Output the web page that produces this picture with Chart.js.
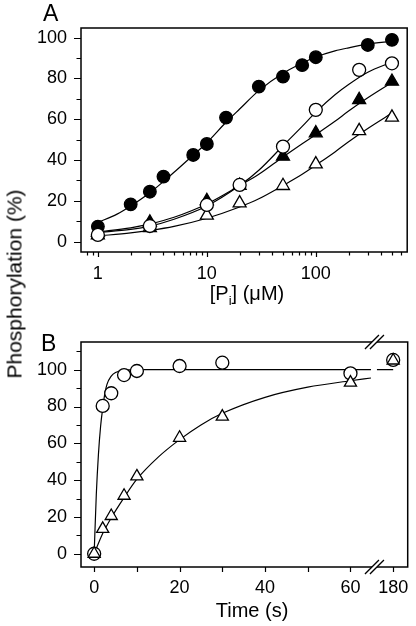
<!DOCTYPE html>
<html><head><meta charset="utf-8">
<script src="https://cdn.jsdelivr.net/npm/chart.js@4"></script>
<style>
html,body{margin:0;padding:0;background:#fff;}
#wrap{position:relative;width:416px;height:626px;overflow:hidden;font-family:"Liberation Sans",Arial,sans-serif;color:#000;}
#ca{position:absolute;left:0;top:0;}
#cb{position:absolute;left:0;top:310px;}
.lab{position:absolute;font-size:23px;line-height:1;}
#ytitle{position:absolute;left:14px;top:284px;transform:translate(-50%,-50%) rotate(-90deg);font-size:21px;line-height:1;white-space:nowrap;}
</style></head><body>
<div id="wrap">
<canvas id="ca" width="416" height="310"></canvas>
<canvas id="cb" width="416" height="316"></canvas>
<div class="lab" style="left:43px;top:2px">A</div>
<div class="lab" style="left:41px;top:332px">B</div>
<div id="ytitle">Phosphorylation (%)</div>
</div>
<script>
// ---------- Panel A data: phosphorylation vs [Pi] (µM) ----------
const a_fc_x=[1,2,3,4,7.5,10,15,30,50,75,100,300,500];
const a_fc_y=[7.4,18.3,24.5,31.9,42.5,47.9,60.8,76,80.9,86.5,90.4,96.4,98.9];
const a_oc_x=[1,3,10,20,50,100,250,500];
const a_oc_y=[3.3,7.7,18,27.8,46.6,64.6,84.2,87.4];
const a_ft_x=[1,3,10,20,50,100,250,500];
const a_ft_y=[4.5,9.5,20,27.5,41.8,53.2,69.5,78.5];
const a_ot_x=[1,3,10,20,50,100,250,500];
const a_ot_y=[3.2,6.8,12.9,18.9,27.4,38,54.3,60.9];
// fitted curves
const a_fit_fc_x=[1,1.5,2,3,4,5,7,10,15,20,30,50,75,100,150,200,300,500];
const a_fit_fc_y=[9.5,13.5,17.5,24,29.5,34,41,48.5,58.5,65,74,82.5,87.5,90.5,93.5,95,96.8,98.2];
const a_fit_oc_x=[1,2,3,5,10,20,30,50,75,100,150,200,300,500];
const a_fit_oc_y=[4.5,6,7.6,11,17.5,27.5,35,47,56.5,63.5,72,77,83,88];
const a_fit_ft_x=[1,2,3,5,10,20,30,50,75,100,150,200,300,500];
const a_fit_ft_y=[4.8,6.8,8.7,12,18.5,27.5,33,41.5,48,52.5,59,64,70.5,78];
const a_fit_ot_x=[1,2,3,5,10,20,30,50,75,100,150,200,300,500];
const a_fit_ot_y=[2.8,4.3,5.5,7.5,11.5,17,21,27.5,33,37.5,44,49,55.5,63];
const a_x_ticks=[1,10,100];
const a_x_minor=[0.8,0.9,2,3,4,5,6,7,8,9,20,30,40,50,60,70,80,90,200,300,400,500,600];
const a_y_ticks=[0,20,40,60,80,100];
const a_y_minor=[10,30,50,70,90];

// ---------- Panel B data: phosphorylation vs time (s) ----------
const b_oc_t=[0,2,4,7,10,20,30,60,180];
const b_oc_y=[0,80.3,87.2,97.1,99.3,102,103.8,98,105.3];
const b_ot_t=[0,2,4,7,10,20,30,60,180];
const b_ot_y=[0,13.5,20.5,31.5,42,63,74.5,93,105];
const b_fit_oc_t=[0,0.5,1,1.5,2,2.5,3,4,5,7,10,64.8];
const b_fit_oc_y=[0,32,54,69,79,87,92,96.5,98.5,99.7,100,100];
const b_fit_oc2_t=[66.2,70];
const b_fit_oc2_y=[100,100];
const b_fit_ot_t=[0,2,4,7,10,15,20,25,30,40,50,60,64.8];
const b_fit_ot_y=[0,11,19.5,30.5,40.5,52.5,62,70,76.3,85,90.5,94,95.5];
const b_x_ticks=[0,20,40,60,180];
const b_x_marks=[0,10,20,30,40,50,60,180];
const b_y_ticks=[0,20,40,60,80,100];
const b_y_minor=[10,30,50,70,90,110];

// broken time axis: the 180 s point sits just after the break
const tpos=t=>t===180?70:t;
const tlabel=v=>v===70?'180':String(v);

const FONT='"Liberation Sans", Arial, sans-serif';
const pts=(xs,ys,f)=>xs.map((x,i)=>({x:f?f(x):x,y:ys[i]}));

function marker(data,style,filled,r){
  return {data,showLine:false,order:0,pointStyle:style,pointRadius:r,pointHoverRadius:r,
    pointBackgroundColor:filled?'#000':'#fff',pointBorderColor:'#000',pointBorderWidth:1.3};
}
function curve(data){
  return {data,showLine:true,order:1,pointRadius:0,borderColor:'#000',borderWidth:1.2,
    cubicInterpolationMode:'monotone',fill:false};
}

const framePlugin={
  id:'framePlugin',
  afterDraw(chart,args,o){
    const {ctx,chartArea:a,scales:{x,y}}=chart;
    ctx.save();
    ctx.strokeStyle='#000';
    ctx.lineWidth=1.2;
    ctx.beginPath();
    o.yMajor.forEach(v=>{const p=Math.round(y.getPixelForValue(v))+0.5;ctx.moveTo(a.left-7,p);ctx.lineTo(a.left,p);});
    o.yMinor.forEach(v=>{const p=Math.round(y.getPixelForValue(v))+0.5;ctx.moveTo(a.left-4.5,p);ctx.lineTo(a.left,p);});
    o.xMajor.forEach(v=>{const p=Math.round(x.getPixelForValue(v))+0.5;ctx.moveTo(p,a.bottom);ctx.lineTo(p,a.bottom+5);});
    o.xMinor.forEach(v=>{const p=Math.round(x.getPixelForValue(v))+0.5;ctx.moveTo(p,a.bottom);ctx.lineTo(p,a.bottom+3.5);});
    ctx.stroke();
    ctx.lineWidth=1.5;
    ctx.strokeRect(a.left,a.top,a.right-a.left,a.bottom-a.top);
    if(o.breakAt!==undefined){
      const cx=x.getPixelForValue(o.breakAt);
      [a.top,a.bottom].forEach(yy=>{
        ctx.fillStyle='#fff';
        ctx.beginPath();
        ctx.moveTo(cx-9,yy+7);ctx.lineTo(cx+5,yy-7);ctx.lineTo(cx+10,yy-7);ctx.lineTo(cx-4,yy+7);ctx.closePath();
        ctx.fill();
        ctx.lineWidth=1.3;
        ctx.beginPath();
        ctx.moveTo(cx-9,yy+7);ctx.lineTo(cx+5,yy-7);
        ctx.moveTo(cx-4,yy+7);ctx.lineTo(cx+10,yy-7);
        ctx.stroke();
      });
    }
    // x-axis title
    ctx.fillStyle='#000';
    ctx.textBaseline='alphabetic';
    ctx.textAlign='left';
    const parts=o.title;
    let w=0;
    parts.forEach(p=>{ctx.font=(p.sub?13:20)+'px '+FONT;w+=ctx.measureText(p.t).width;});
    let xx=o.titleX-w/2;
    parts.forEach(p=>{ctx.font=(p.sub?13:20)+'px '+FONT;ctx.fillText(p.t,xx,o.titleY+(p.sub?5:0));xx+=ctx.measureText(p.t).width;});
    ctx.restore();
  }
};

function baseOptions(cfg){
  return {
    responsive:false,animation:false,devicePixelRatio:1,
    layout:{padding:{top:cfg.top,right:5,left:0,bottom:0}},
    plugins:{legend:{display:false},tooltip:{enabled:false},framePlugin:cfg.frame},
    scales:{
      x:Object.assign({
        position:'bottom',
        grid:{display:false,drawTicks:false,tickLength:0},
        border:{display:false},
        ticks:{color:'#000',font:{family:FONT,size:18},padding:cfg.xpad,maxRotation:0,autoSkip:false},
        afterFit:s=>{s.height=cfg.xh;s.paddingLeft=0;s.paddingRight=0;s.paddingTop=0;s.paddingBottom=0;}
      },cfg.x),
      y:{
        type:'linear',min:cfg.ymin,max:cfg.ymax,
        grid:{display:false,drawTicks:false,tickLength:0},
        border:{display:false},
        ticks:{color:'#000',font:{family:FONT,size:18},padding:14,autoSkip:false},
        afterBuildTicks:s=>{s.ticks=cfg.yticks.map(v=>({value:v}));},
        afterFit:s=>{s.width=81;s.paddingTop=0;s.paddingBottom=0;s.paddingLeft=0;s.paddingRight=0;}
      }
    }
  };
}

new Chart(document.getElementById('ca'),{
  type:'scatter',
  data:{datasets:[
    marker(pts(a_oc_x,a_oc_y),'circle',false,6.5),
    marker(pts(a_fc_x,a_fc_y),'circle',true,6.3),
    marker(pts(a_ft_x,a_ft_y),'triangle',true,7.5),
    marker(pts(a_ot_x,a_ot_y),'triangle',false,7.5),
    curve(pts(a_fit_fc_x,a_fit_fc_y)),
    curve(pts(a_fit_oc_x,a_fit_oc_y)),
    curve(pts(a_fit_ft_x,a_fit_ft_y)),
    curve(pts(a_fit_ot_x,a_fit_ot_y))
  ]},
  options:baseOptions({
    top:28,xh:58,xpad:11,ymin:-5.05,ymax:104.7,yticks:a_y_ticks,
    x:{type:'logarithmic',min:0.71,max:690,
       afterBuildTicks:s=>{s.ticks=a_x_ticks.map(v=>({value:v}));},
       ticks:{color:'#000',font:{family:FONT,size:18},padding:11,maxRotation:0,autoSkip:false,callback:v=>String(v)}},
    frame:{yMajor:a_y_ticks,yMinor:a_y_minor,xMajor:a_x_ticks,xMinor:a_x_minor,
      title:[{t:'[P'},{t:'i',sub:true},{t:'] (\u03bcM)'}],titleX:247,titleY:300}
  }),
  plugins:[framePlugin]
});

new Chart(document.getElementById('cb'),{
  type:'scatter',
  data:{datasets:[
    marker(pts(b_ot_t,b_ot_y,tpos),'triangle',false,7),
    marker(pts(b_oc_t,b_oc_y,tpos),'circle',false,6.5),
    curve(pts(b_fit_oc_t,b_fit_oc_y)),
    curve(pts(b_fit_oc2_t,b_fit_oc2_y)),
    curve(pts(b_fit_ot_t,b_fit_ot_y))
  ]},
  options:baseOptions({
    top:32,xh:59,xpad:10,ymin:-7.2,ymax:115.05,yticks:b_y_ticks,
    x:{type:'linear',min:-3.08,max:73.4,
       afterBuildTicks:s=>{s.ticks=b_x_ticks.map(v=>({value:tpos(v)}));},
       ticks:{color:'#000',font:{family:FONT,size:18},padding:10,maxRotation:0,autoSkip:false,callback:v=>tlabel(v)}},
    frame:{yMajor:b_y_ticks,yMinor:b_y_minor,xMajor:b_x_marks.map(tpos),xMinor:[],breakAt:65.5,
      title:[{t:'Time (s)'}],titleX:252,titleY:306.5}
  }),
  plugins:[framePlugin]
});
</script>
</body></html>
